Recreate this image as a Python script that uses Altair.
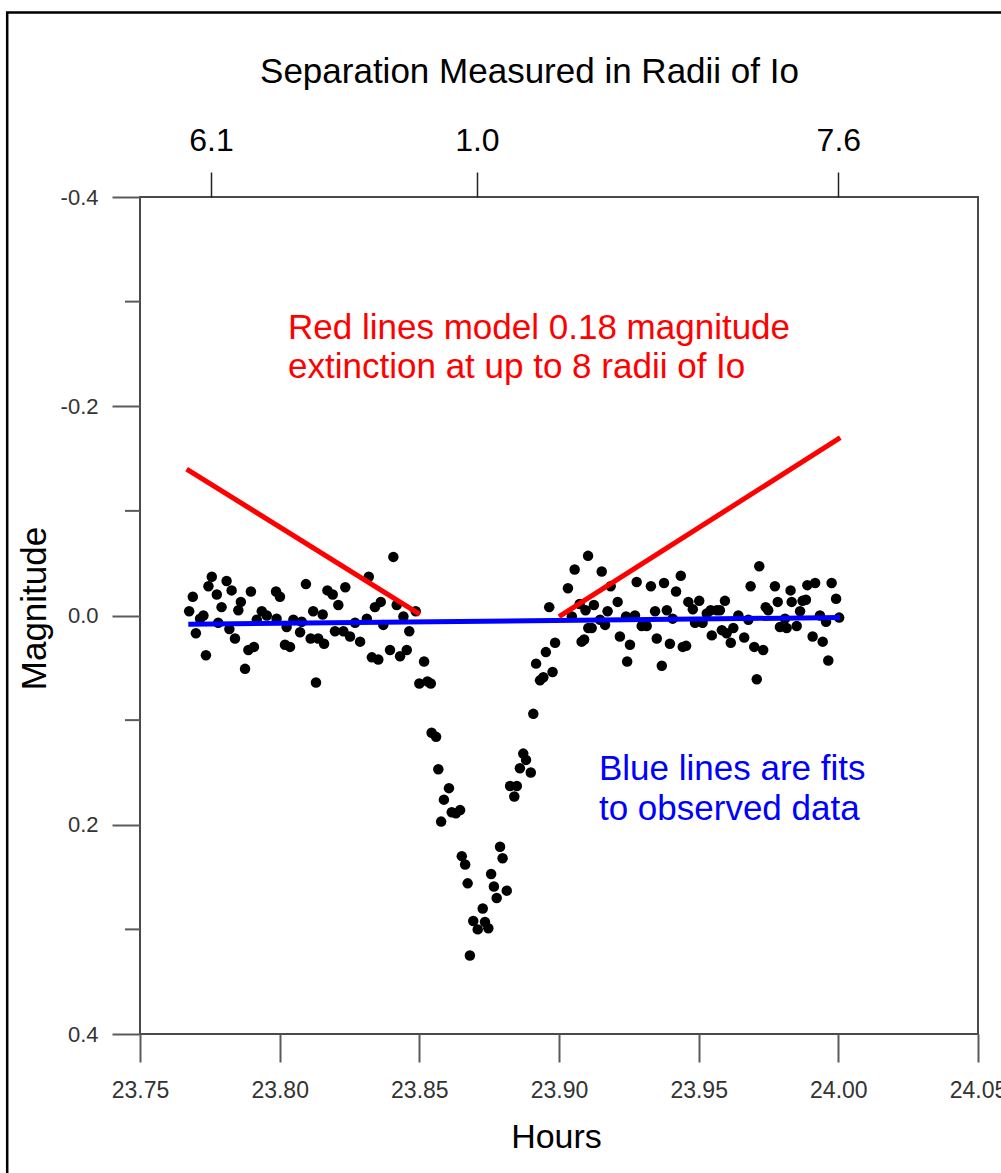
import altair as alt
import pandas as pd

# ---------------- data ----------------
left_hours = [23.7689, 23.7676, 23.7715, 23.7727, 23.7700, 23.7736, 23.7757, 23.7745, 23.7775, 23.7792,
              23.7780, 23.7810, 23.7828, 23.7861, 23.7852, 23.7820, 23.7840, 23.7897, 23.7888, 23.7908,
              23.7876, 23.7936, 23.7918, 23.7954, 23.7987, 23.8001, 23.7989, 23.8025, 23.8019, 23.8037,
              23.8049, 23.8079, 23.8073, 23.8094, 23.8120, 23.8154, 23.8111, 23.8138, 23.8159, 23.8130,
              23.8171, 23.8190, 23.8210, 23.8235, 23.8198, 23.8228, 23.8252, 23.8270, 23.8288, 23.8319,
              23.8312, 23.8341, 23.8362, 23.8371, 23.8330, 23.8353, 23.8395, 23.8407, 23.8419, 23.8443,
              23.8464, 23.8431, 23.8455, 23.8487, 23.8517, 23.8500, 23.8529, 23.8541]
left_mag = [-0.018, -0.004, 0.003, 0.000, 0.017, 0.038, -0.037, -0.028, -0.020, -0.008,
            0.007, -0.033, -0.024, -0.013, -0.005, 0.013, 0.022, -0.023, 0.033, 0.030,
            0.051, -0.004, 0.004, 0.000, -0.023, -0.018, 0.003, 0.011, 0.028, 0.030,
            0.004, 0.006, 0.016, -0.030, -0.004, -0.001, 0.022, 0.022, 0.027, 0.064,
            -0.024, -0.020, -0.010, -0.027, 0.015, 0.015, 0.020, 0.007, 0.025, -0.037,
            0.003, -0.008, -0.013, 0.009, 0.040, 0.042, 0.033, -0.056, -0.010, 0.001,
            0.015, 0.039, 0.033, -0.004, 0.044, 0.065, 0.063, 0.065]

dip_hours = [23.8544, 23.8560, 23.8568, 23.8606, 23.8588, 23.8616, 23.8631, 23.8646, 23.8578, 23.8652,
             23.8664, 23.8673, 23.8727, 23.8693, 23.8709, 23.8735, 23.8747, 23.8681, 23.8757, 23.8767,
             23.8777, 23.8813, 23.8789, 23.8798, 23.8825, 23.8849, 23.8840, 23.8860, 23.8872, 23.8882,
             23.8899, 23.8908, 23.8932, 23.8944, 23.8977, 23.8918, 23.8953, 23.8986, 23.8965]
dip_mag = [0.112, 0.116, 0.147, 0.165, 0.176, 0.188, 0.189, 0.186, 0.197, 0.230,
           0.238, 0.256, 0.280, 0.292, 0.300, 0.293, 0.299, 0.325, 0.247, 0.259,
           0.270, 0.263, 0.221, 0.232, 0.163, 0.163, 0.173, 0.146, 0.132, 0.138,
           0.150, 0.094, 0.062, 0.059, 0.054, 0.046, 0.035, 0.026, -0.008]

right_hours = [23.9032, 23.9056, 23.9104, 23.9074, 23.9095, 23.9046, 23.9081, 23.9090, 23.9105, 23.9117,
               23.9125, 23.9153, 23.9147, 23.9165, 23.9174, 23.9185, 23.9210, 23.9218, 23.9240, 23.9254,
               23.9244, 23.9278, 23.9272, 23.9296, 23.9314, 23.9329, 23.9344, 23.9350, 23.9368, 23.9376,
               23.9386, 23.9397, 23.9407, 23.9419, 23.9436, 23.9443, 23.9455, 23.9463, 23.9479, 23.9487,
               23.9514, 23.9502, 23.9529, 23.9543, 23.9547, 23.9565, 23.9576, 23.9583, 23.9600, 23.9594,
               23.9615, 23.9624, 23.9642, 23.9663, 23.9678, 23.9686, 23.9699, 23.9731, 23.9708, 23.9717,
               23.9740, 23.9749, 23.9773, 23.9783, 23.9791, 23.9815, 23.9809, 23.9829, 23.9833, 23.9851,
               23.9863, 23.9872, 23.9884, 23.9889, 23.9917, 23.9908, 23.9934, 23.9944, 23.9956, 23.9964,
               23.9976, 23.9992, 24.0003]
right_mag = [-0.026, -0.044, -0.057, -0.011, -0.005, 0.001, 0.025, 0.023, 0.012, 0.012,
             -0.010, -0.042, 0.004, 0.009, -0.004, -0.028, -0.013, 0.020, 0.001, 0.028,
             0.044, -0.032, 0.000, 0.010, 0.010, -0.028, -0.004, 0.022, 0.048, -0.031,
             -0.005, 0.027, 0.003, -0.023, -0.038, 0.030, 0.029, -0.013, -0.006, 0.007,
             0.007, -0.014, -0.002, -0.005, 0.019, -0.005, -0.005, 0.014, 0.017, -0.014,
             0.026, 0.012, 0.000, 0.021, 0.004, -0.028, 0.030, 0.033, 0.061, -0.047,
             -0.008, -0.005, -0.028, -0.013, 0.011, 0.012, 0.003, -0.024, -0.013, 0.010,
             -0.004, -0.014, -0.015, -0.029, -0.031, 0.020, 0.000, 0.025, 0.006, 0.043,
             -0.031, -0.016, 0.002]

blue_hours = [23.7673, 24.0006]
blue_mag = [0.0084, 0.0020]
red1_hours = [23.7667, 23.8502]
red1_mag = [-0.140, -0.001]
red2_hours = [23.9000, 24.0007]
red2_mag = [0.001, -0.170]

x_domain = [23.75, 24.05]
y_domain = [-0.4, 0.4]
x_ticks = [23.75, 23.80, 23.85, 23.90, 23.95, 24.00, 24.05]
y_major = [-0.4, -0.2, 0.0, 0.2, 0.4]
y_minor = [-0.3, -0.1, 0.1, 0.3]
top_tick_hours = [23.7754, 23.8706, 24.0]
top_tick_labels = ["6.1", "1.0", "7.6"]

red_text = ["Red lines model 0.18 magnitude", "extinction at up to 8 radii of Io"]
red_text_hours = [23.803, 23.803]
red_text_mag = [-0.2645, -0.2270]
blue_text = ["Blue lines are fits", "to observed data"]
blue_text_hours = [23.9143, 23.9143]
blue_text_mag = [0.1575, 0.1955]

FONT = "Liberation Sans"
FRAME = "#4a4a4a"
TICK = "#5a5a5a"

# ---------------- tables ----------------
pts = pd.DataFrame({
    "h": left_hours + dip_hours + right_hours,
    "m": left_mag + dip_mag + right_mag,
})
blue_df = pd.DataFrame({"h": blue_hours, "m": blue_mag})
red_df = pd.DataFrame({
    "h": red1_hours + red2_hours,
    "m": red1_mag + red2_mag,
    "seg": ["a", "a", "b", "b"],
})
minor_df = pd.DataFrame({"m": y_minor})
red_t = pd.DataFrame({"h": red_text_hours, "m": red_text_mag, "t": red_text})
blue_t = pd.DataFrame({"h": blue_text_hours, "m": blue_text_mag, "t": blue_text})

xs = alt.Scale(domain=x_domain, nice=False, zero=False)
ys = alt.Scale(domain=y_domain, nice=False, zero=False, reverse=True)

top_expr = " : ".join(
    f"abs(datum.value - {h}) < 0.002 ? '{l}'" for h, l in zip(top_tick_hours, top_tick_labels)
) + " : ''"

bottom_axis = alt.Axis(
    orient="bottom", values=x_ticks, format=".2f", title="Hours", domain=False, grid=False,
    tickSize=28, tickWidth=2, tickColor=TICK,
    labelFontSize=23, labelColor="#333333", labelFont=FONT, labelPadding=35,
    labelBaseline="alphabetic", labelFlush=False, labelOverlap=False, labelBound=False,
    titleFontSize=34, titleFont=FONT, titleFontWeight="normal", titleColor="black",
    titleBaseline="alphabetic", titleY=113, titleX=416, titleAlign="center",
)
left_axis = alt.Axis(
    orient="left", values=y_major, title="Magnitude", domain=False, grid=False,
    labelExpr="datum.value < 0 ? '-' + format(abs(datum.value), '.1f') : format(abs(datum.value), '.1f')",
    tickSize=28, tickWidth=2, tickColor=TICK,
    labelFontSize=22, labelColor="#333333", labelFont=FONT, labelPadding=14,
    labelBaseline="middle", labelFlush=False, labelOverlap=False,
    titleFontSize=35, titleFont=FONT, titleFontWeight="normal", titleColor="black",
    titleAngle=270, titleBaseline="alphabetic", titleAlign="center", titleX=-95, titleY=411,
)
top_axis = alt.Axis(
    orient="top", values=top_tick_hours, labelExpr=top_expr,
    title="Separation Measured in Radii of Io", domain=False, grid=False,
    tickSize=25, tickWidth=1.5, tickColor="#222222",
    labelFontSize=32, labelColor="black", labelFont=FONT, labelPadding=22,
    labelBaseline="alphabetic", labelFlush=False, labelOverlap=False,
    titleFontSize=35, titleFont=FONT, titleFontWeight="normal", titleColor="black",
    titleBaseline="alphabetic", titleAlign="center", titleX=389, titleY=-115,
)

# y: only the first layer defines the (shared) axis; other layers leave it unset
points = alt.Chart(pts).mark_circle(size=110, color="black", opacity=1).encode(
    x=alt.X("h:Q", scale=xs, axis=bottom_axis),
    y=alt.Y("m:Q", scale=ys, axis=left_axis),
)

blue = alt.Chart(blue_df).mark_line(color="#0000ff", strokeWidth=5).encode(
    x=alt.X("h:Q", scale=xs, axis=top_axis),
    y=alt.Y("m:Q", scale=ys),
)

red = alt.Chart(red_df).mark_line(color="#ff0000", strokeWidth=5).encode(
    x=alt.X("h:Q", scale=xs, axis=None),
    y=alt.Y("m:Q", scale=ys),
    detail="seg:N",
)

minor = alt.Chart(minor_df).mark_rule(color=TICK, strokeWidth=2).encode(
    y=alt.Y("m:Q", scale=ys),
    x=alt.value(-15),
    x2=alt.value(0),
)

red_label = alt.Chart(red_t).mark_text(
    align="left", baseline="alphabetic", fontSize=35, font=FONT, color="#ff0000"
).encode(
    x=alt.X("h:Q", scale=xs, axis=None),
    y=alt.Y("m:Q", scale=ys),
    text="t:N",
)

blue_label = alt.Chart(blue_t).mark_text(
    align="left", baseline="alphabetic", fontSize=35, font=FONT, color="#0000ff"
).encode(
    x=alt.X("h:Q", scale=xs, axis=None),
    y=alt.Y("m:Q", scale=ys),
    text="t:N",
)

border = alt.Chart(pd.DataFrame({"a": [0]})).mark_rect(
    fill="transparent", stroke="black", strokeWidth=2.5
).encode(
    x=alt.value(-132.8), x2=alt.value(900),
    y=alt.value(-184.5), y2=alt.value(1000),
)

chart = alt.layer(points, blue, red, minor, red_label, blue_label, border).properties(
    width=838,
    height=837,
    autosize=alt.AutoSizeParams(type="none"),
    padding={"left": 140, "top": 197, "right": 23, "bottom": 139},
    background="white",
).configure(font=FONT).configure_view(stroke=FRAME, strokeWidth=2)

chart.save("out.html", embed_options={"renderer": "svg", "actions": False})
